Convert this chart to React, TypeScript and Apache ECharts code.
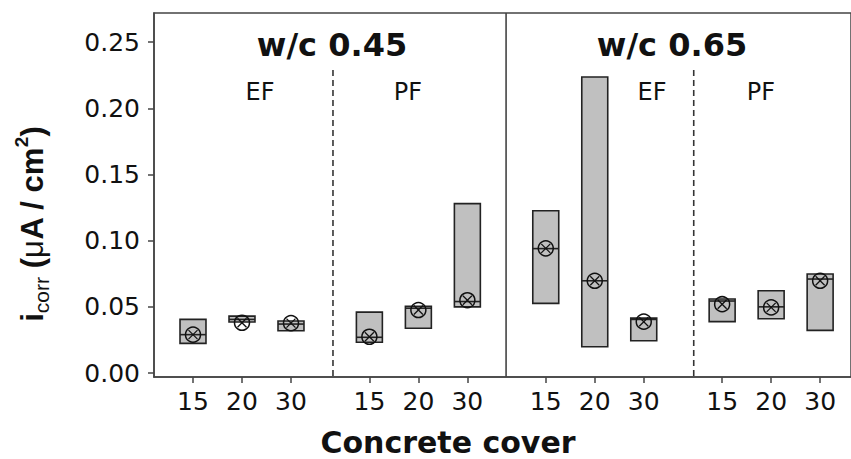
import React, { useEffect, useRef } from "react";
import * as echarts from "echarts";

// ---- data ----
const coverLabels = ["15", "20", "30"];
const fiberGroups = ["EF", "PF", "EF", "PF"];
const wcTitles = ["w/c 0.45", "w/c 0.65"];
const boxLow = [0.0224, 0.0385, 0.0319, 0.0232, 0.0338, 0.050, 0.0526, 0.0199, 0.0244, 0.0388, 0.041, 0.0322];
const boxHigh = [0.0405, 0.043, 0.0393, 0.046, 0.0504, 0.128, 0.1226, 0.2237, 0.0415, 0.0559, 0.0622, 0.0748];
const medians = [0.029, 0.0405, 0.037, 0.027, 0.049, 0.054, 0.094, 0.0697, 0.0405, 0.0544, 0.050, 0.071];
const means = [0.029, 0.038, 0.0377, 0.0274, 0.0476, 0.055, 0.0942, 0.0697, 0.0388, 0.052, 0.0496, 0.0697];
const yTicks = [0, 0.05, 0.1, 0.15, 0.2, 0.25];

// ---- layout helpers ----
const GROUP_STEP = 3.6;
const xPos = boxLow.map((_, i) => Math.floor(i / 3) * GROUP_STEP + (i % 3));
const xLabelOf = (v: number) => {
  const i = xPos.findIndex((p) => Math.abs(p - v) < 1e-6);
  return i >= 0 ? coverLabels[i % 3] : "";
};
const FONT = "DejaVu Sans";
const YFONT = "Liberation Sans";

export default function App() {
  const ref = useRef<HTMLDivElement>(null);
  useEffect(() => {
    if (!ref.current) return;
    const chart = echarts.init(ref.current, null, { renderer: "svg" });
    const data = xPos.map((x, i) => [x, boxLow[i], boxHigh[i], medians[i], means[i]]);
    const yMin = -0.003;
    const yMax = 0.272;
    chart.setOption({
      animation: false,
      grid: {
        left: 154,
        top: 13,
        right: 0,
        bottom: 82,
        show: true,
        borderColor: "#444",
        borderWidth: 1.5,
      },
      xAxis: {
        type: "value",
        min: -0.796,
        max: 13.43,
        splitLine: { show: false },
        axisLine: { onZero: false, lineStyle: { color: "#444", width: 1.5 } },
        axisTick: { customValues: xPos, length: 6, lineStyle: { color: "#444", width: 1.5 } },
        axisLabel: {
          customValues: xPos,
          formatter: (v: number) => xLabelOf(v),
          color: "#111",
          fontFamily: FONT,
          fontSize: 25,
          margin: 12,
        },
      },
      yAxis: {
        type: "value",
        min: yMin,
        max: yMax,
        splitLine: { show: false },
        axisLine: { show: true, onZero: false, lineStyle: { color: "#444", width: 1.5 } },
        axisTick: { customValues: yTicks, length: 6, lineStyle: { color: "#444", width: 1.5 } },
        axisLabel: {
          customValues: yTicks,
          formatter: (v: number) => v.toFixed(2),
          color: "#111",
          fontFamily: FONT,
          fontSize: 25,
          margin: 14,
        },
      },
      series: [
        {
          type: "custom",
          data,
          renderItem: (params: any, api: any) => {
            const x = api.value(0);
            const lo = api.coord([x, api.value(1)]);
            const hi = api.coord([x, api.value(2)]);
            const md = api.coord([x, api.value(3)]);
            const mn = api.coord([x, api.value(4)]);
            const w = api.size([0.53, 0])[0];
            const r = 7.5;
            const d = r * 0.6;
            const stroke = "#222";
            return {
              type: "group",
              children: [
                {
                  type: "rect",
                  shape: { x: lo[0] - w / 2, y: hi[1], width: w, height: lo[1] - hi[1] },
                  style: { fill: "#c0c0c0", stroke, lineWidth: 1.6 },
                },
                {
                  type: "line",
                  shape: { x1: md[0] - w / 2, y1: md[1], x2: md[0] + w / 2, y2: md[1] },
                  style: { stroke, lineWidth: 1.6 },
                },
                {
                  type: "circle",
                  shape: { cx: mn[0], cy: mn[1], r },
                  style: { fill: "none", stroke: "#111", lineWidth: 1.5 },
                },
                {
                  type: "line",
                  shape: { x1: mn[0] - d, y1: mn[1] - d, x2: mn[0] + d, y2: mn[1] + d },
                  style: { stroke: "#111", lineWidth: 1.3 },
                },
                {
                  type: "line",
                  shape: { x1: mn[0] - d, y1: mn[1] + d, x2: mn[0] + d, y2: mn[1] - d },
                  style: { stroke: "#111", lineWidth: 1.3 },
                },
              ],
            };
          },
          z: 3,
        },
        {
          type: "line",
          data: [[2.857, 0.229], [2.857, yMin]],
          symbol: "none",
          lineStyle: { color: "#333", width: 1.6, type: [6, 4] },
          z: 2,
        },
        {
          type: "line",
          data: [[10.22, 0.229], [10.22, yMin]],
          symbol: "none",
          lineStyle: { color: "#333", width: 1.6, type: [6, 4] },
          z: 2,
        },
        {
          type: "line",
          data: [[6.39, yMax], [6.39, yMin]],
          symbol: "none",
          lineStyle: { color: "#444", width: 1.6 },
          z: 2,
        },
      ],
      graphic: [
        { type: "text", x: 332, y: 45, style: { text: wcTitles[0], font: `bold 32px "${FONT}"`, fill: "#111", align: "center", verticalAlign: "middle" } },
        { type: "text", x: 672, y: 45, style: { text: wcTitles[1], font: `bold 32px "${FONT}"`, fill: "#111", align: "center", verticalAlign: "middle" } },
        { type: "text", x: 260, y: 92, style: { text: fiberGroups[0], font: `24px "${FONT}"`, fill: "#111", align: "center", verticalAlign: "middle" } },
        { type: "text", x: 408, y: 92, style: { text: fiberGroups[1], font: `24px "${FONT}"`, fill: "#111", align: "center", verticalAlign: "middle" } },
        { type: "text", x: 652, y: 92, style: { text: fiberGroups[2], font: `24px "${FONT}"`, fill: "#111", align: "center", verticalAlign: "middle" } },
        { type: "text", x: 761, y: 92, style: { text: fiberGroups[3], font: `24px "${FONT}"`, fill: "#111", align: "center", verticalAlign: "middle" } },
        {
          type: "text",
          x: 448,
          y: 442,
          style: { text: "Concrete cover", font: `bold 30px "${FONT}"`, fill: "#111", align: "center", verticalAlign: "middle" },
        },
        {
          type: "text",
          x: 32,
          y: 224,
          rotation: Math.PI / 2,
          style: {
            text: "{b|i}{s|corr}{b| (}{m|μ}{b|A / cm}{p|2}{b|)}",
            align: "center",
            verticalAlign: "middle",
            rich: {
              b: { fontFamily: YFONT, fontWeight: "bold", fontSize: 31, fill: "#111", lineHeight: 40, verticalAlign: "middle" },
              m: { fontFamily: YFONT, fontWeight: "normal", fontSize: 31, fill: "#111", lineHeight: 40, verticalAlign: "middle" },
              s: { fontFamily: YFONT, fontSize: 21, fill: "#111", lineHeight: 40, verticalAlign: "bottom" },
              p: { fontFamily: YFONT, fontWeight: "bold", fontSize: 19, fill: "#111", lineHeight: 40, verticalAlign: "top" },
            },
          },
        },
      ],
    });
    return () => chart.dispose();
  }, []);
  return (
    <div
      ref={ref}
      style={{ position: "absolute", left: 0, top: 0, width: 851, height: 459 }}
    />
  );
}
